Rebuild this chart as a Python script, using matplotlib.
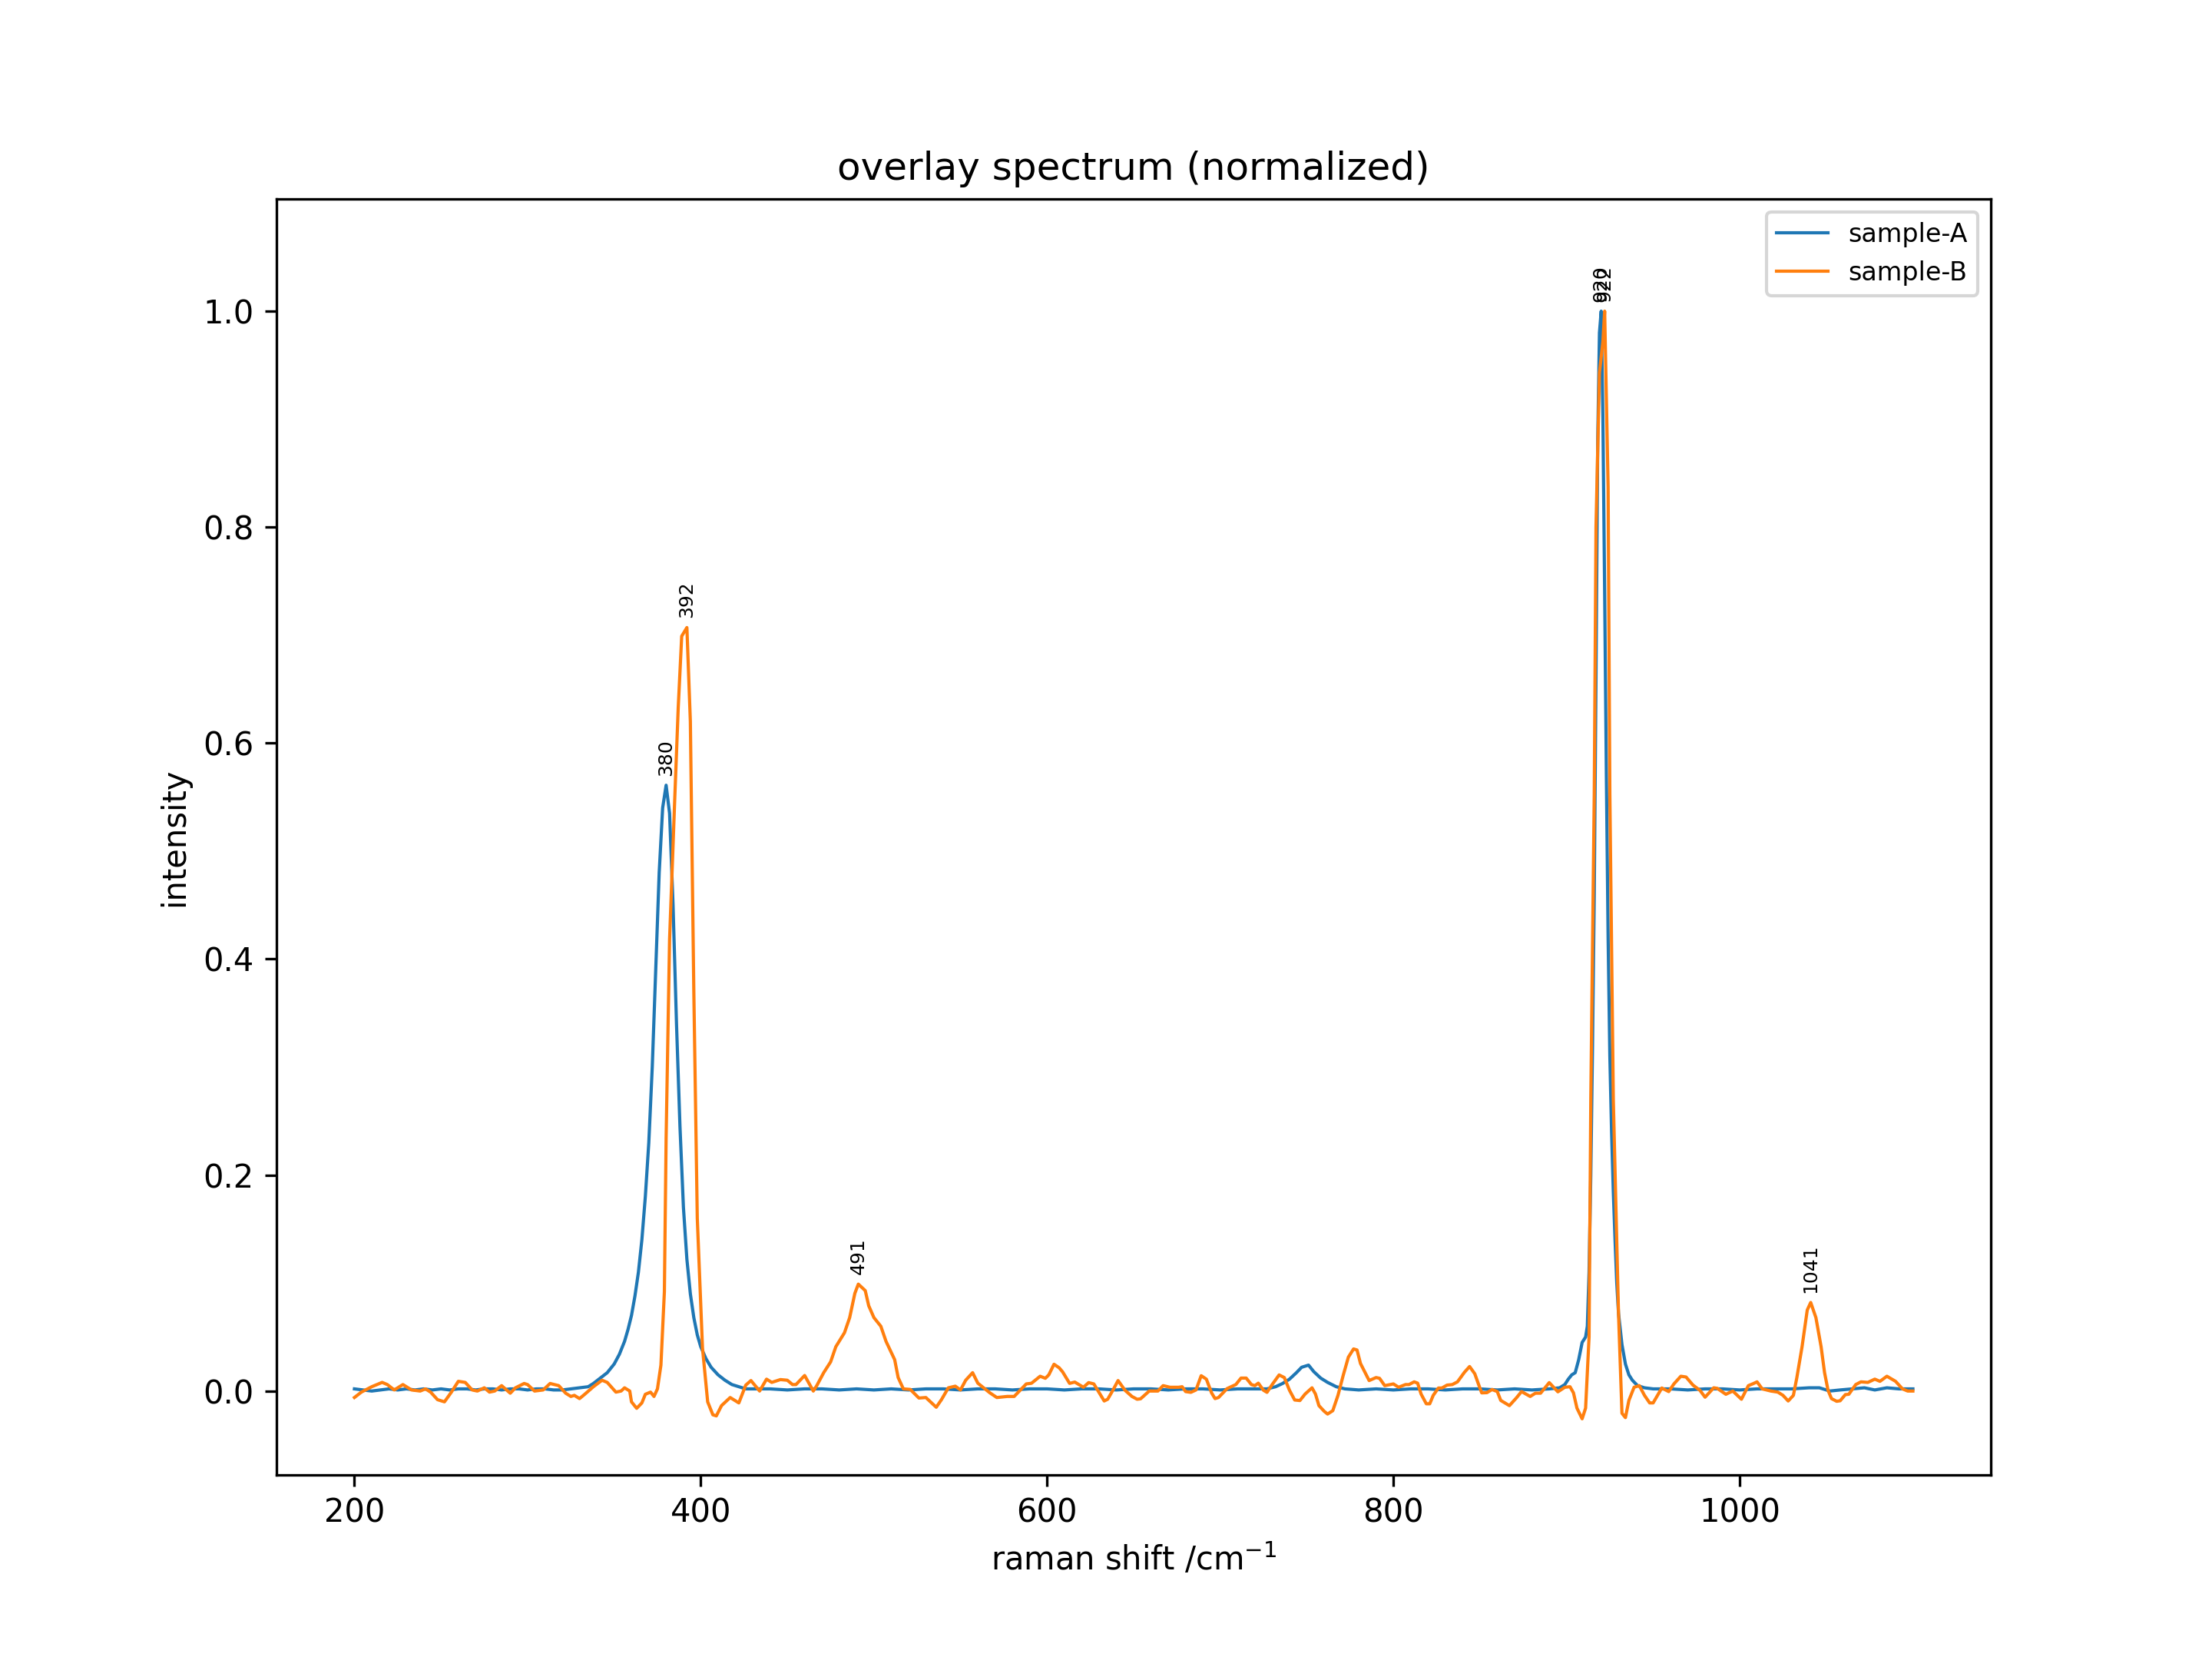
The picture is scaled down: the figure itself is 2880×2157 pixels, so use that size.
import matplotlib
matplotlib.use("Agg")
import matplotlib.pyplot as plt

# sample-A (blue)
shift_a = [200, 205, 210, 215, 220, 225, 230, 235, 240, 245, 250, 255, 260, 265, 270, 275,
           280, 285, 290, 295, 300, 305, 310, 315, 320, 325, 330, 335, 338, 342, 346, 350,
           353, 356, 358, 360, 362, 364, 366, 368, 370, 372, 374, 376, 378, 380, 382, 384,
           386, 388, 390, 392, 394, 396, 398, 400, 403, 406, 410, 414, 418, 422, 426, 430,
           440, 450, 460, 470, 480, 490, 500, 510, 520, 530, 540, 550, 560, 570, 580, 590,
           600, 610, 620, 630, 640, 650, 660, 670, 680, 690, 700, 710, 720, 727, 732, 736,
           740, 744, 747, 751, 754, 758, 762, 767, 772, 780, 790, 800, 810, 820, 830, 840,
           850, 860, 870, 880, 890, 896, 899, 901, 903, 905, 907, 909, 911, 912, 913, 914,
           915, 916, 917, 918, 919, 920, 921, 922, 923, 924, 925, 926, 927, 928, 929, 930,
           932, 934, 936, 938, 941, 945, 950, 960, 970, 980, 990, 1000, 1010, 1020, 1030,
           1040, 1046, 1052, 1058, 1065, 1072, 1078, 1085, 1092, 1100]
int_a = [0.002, 0.001, 0.000, 0.001, 0.002, 0.001, 0.002, 0.001, 0.002, 0.001, 0.002, 0.001,
         0.002, 0.002, 0.001, 0.002, 0.002, 0.001, 0.002, 0.002, 0.001, 0.002, 0.002, 0.001,
         0.001, 0.002, 0.003, 0.004, 0.007, 0.012, 0.017, 0.025, 0.034, 0.046, 0.057, 0.070,
         0.088, 0.110, 0.140, 0.180, 0.230, 0.300, 0.390, 0.480, 0.540, 0.561, 0.535, 0.450,
         0.340, 0.245, 0.170, 0.122, 0.090, 0.068, 0.052, 0.041, 0.030, 0.022, 0.015, 0.010,
         0.006, 0.004, 0.002, 0.002,
         0.002, 0.001, 0.002, 0.002, 0.001, 0.002, 0.001, 0.002, 0.001, 0.002, 0.002, 0.001,
         0.002, 0.002, 0.001, 0.002, 0.002, 0.001, 0.002, 0.002, 0.001, 0.002, 0.002, 0.001,
         0.002, 0.002, 0.001, 0.002, 0.002, 0.002, 0.004, 0.007,
         0.011, 0.017, 0.022, 0.024, 0.018, 0.012, 0.008, 0.004, 0.002, 0.001, 0.002, 0.001,
         0.002, 0.002, 0.001, 0.002,
         0.002, 0.001, 0.002, 0.001, 0.002, 0.003, 0.006, 0.011, 0.015, 0.017, 0.029, 0.045,
         0.050, 0.060, 0.110, 0.200,
         0.320, 0.460, 0.660, 0.880, 0.980, 1.000, 0.900, 0.740, 0.570, 0.420, 0.310, 0.240,
         0.185, 0.140, 0.100, 0.072,
         0.043, 0.025, 0.015, 0.010, 0.005, 0.003, 0.002, 0.002, 0.001, 0.002, 0.002, 0.001,
         0.002, 0.002, 0.002,
         0.003, 0.003, 0.000, 0.001, 0.002, 0.003, 0.001, 0.003, 0.002, 0.002]

# sample-B (orange)
shift_b = [200, 204, 210, 216, 219, 223, 228, 233, 238, 241, 244, 248, 252, 256, 260, 264,
           268, 271, 275, 278, 281, 285, 290, 293, 298, 300, 304, 309, 313, 318, 322, 325,
           327, 330, 333, 338, 343, 346, 351, 354, 356, 359, 360, 363, 366, 368, 371, 373,
           375, 377, 379, 380, 382, 385, 387, 389, 392, 394, 396, 398, 401, 404, 407, 409,
           412, 417, 422, 426, 429, 434, 438, 441, 446, 450, 453, 455, 460, 465, 467, 471,
           475, 478, 483, 486, 489, 491, 495, 497, 500, 504, 507, 512, 514, 517, 521, 526,
           530, 536, 539, 543, 547, 550, 553, 557, 560, 567, 571, 577, 581, 588, 591, 596,
           599, 601, 604, 607, 609, 613, 616, 621, 624, 627, 633, 635, 638, 641, 645, 649,
           652, 654, 659, 664, 667, 671, 676, 678, 680, 683, 686, 689, 692, 695, 697, 699,
           704, 709, 712, 715, 718, 720, 722, 725, 727, 730, 734, 737, 740, 743, 746, 749,
           753, 755, 757, 760, 762, 765, 768, 771, 774, 777, 779, 781, 786, 790, 792, 795,
           800, 803, 807, 809, 812, 814, 816, 819, 821, 823, 826, 828, 831, 834, 837, 841,
           844, 847, 849, 851, 854, 857, 860, 862, 867, 871, 874, 879, 882, 885, 890, 895,
           899, 902, 904, 906, 909, 911, 913, 914, 916, 917, 919, 921, 922, 924, 925, 927,
           930, 932, 934, 936, 939, 942, 945, 948, 950, 955, 959, 962, 966, 969, 973, 977,
           980, 985, 987, 992, 996, 1001, 1005, 1008, 1010, 1013, 1018, 1022, 1025, 1028,
           1031, 1033, 1036, 1039, 1041, 1044, 1047, 1049, 1051, 1053, 1056, 1058, 1061,
           1063, 1067, 1070, 1074, 1078, 1081, 1085, 1090, 1094, 1097, 1100]
int_b = [-0.006, -0.001, 0.004, 0.008, 0.006, 0.001, 0.006, 0.001, 0.000, 0.002, -0.001, -0.008,
         -0.010, -0.001, 0.009, 0.008, 0.001, 0.000, 0.003, -0.001, 0.000, 0.005, -0.002, 0.003,
         0.007, 0.006, 0.000, 0.001, 0.007, 0.005, -0.002, -0.005, -0.004, -0.007, -0.003, 0.004,
         0.010, 0.008, -0.001, 0.000, 0.003, 0.000, -0.010, -0.016, -0.011, -0.003, -0.001, -0.005,
         0.002, 0.024, 0.092, 0.234, 0.418, 0.549, 0.633, 0.699, 0.707, 0.620, 0.370, 0.160,
         0.040, -0.010, -0.022, -0.023,
         -0.0135, -0.006, -0.011, 0.0055, 0.0097, 0.000, 0.011, 0.008, 0.0106, 0.010, 0.006, 0.006,
         0.0144, 0.000, 0.005, 0.017,
         0.027, 0.041, 0.054, 0.068, 0.0905, 0.099, 0.093, 0.079, 0.068, 0.060, 0.046, 0.029,
         0.0125, 0.002, 0.0015, -0.0065,
         -0.006, -0.015, -0.008, 0.003, 0.0045, 0.001, 0.010, 0.017, 0.0073, -0.0017, -0.006, -0.005,
         -0.005, 0.0066, 0.0072, 0.0137,
         0.0118, 0.015, 0.0248, 0.0215, 0.0177, 0.0071, 0.0083, 0.0035, 0.0078, 0.0066, -0.0092,
         -0.0076, 0.0007, 0.0097, 0.0007, -0.005,
         -0.0076, -0.0072, 0.000, 0.000, 0.005, 0.0035, 0.0035, 0.004, -0.0005, -0.0012, 0.001,
         0.0142, 0.011, -0.0017, -0.007, -0.006,
         0.0023, 0.006, 0.012, 0.012, 0.006, 0.005, 0.0073, 0.0007, -0.0012, 0.006, 0.0149,
         0.0125, 0.0007, -0.0083, -0.0088, -0.0028,
         0.003, -0.0028, -0.0135, -0.0187, -0.0213, -0.0182, -0.004, 0.0144, 0.0314, 0.039,
         0.038, 0.0255, 0.0097, 0.0125, 0.0118, 0.005,
         0.0066, 0.0035, 0.006, 0.006, 0.0085, 0.0073, -0.0028, -0.0118, -0.0118, -0.004,
         0.0028, 0.0028, 0.0055, 0.006, 0.0085, 0.0173,
         0.0227, 0.016, 0.007, -0.0017, -0.0015, 0.0014, -0.0005, -0.0087, -0.0135, -0.0064,
         -0.0005, -0.005, -0.002, -0.002, 0.0078, -0.0007,
         0.0035, 0.004, -0.0017, -0.0158, -0.0257, -0.0158, 0.050, 0.270, 0.553, 0.800, 0.943,
         0.972, 1.000, 0.837, 0.553, 0.270,
         0.072, -0.0206, -0.0246, -0.0087, 0.0035, 0.005, -0.004, -0.011, -0.011, 0.0028,
         -0.0005, 0.0066, 0.0137, 0.013, 0.0055, 0.0007,
         -0.0057, 0.003, 0.0025, -0.003, 0.000, -0.0076, 0.005, 0.007, 0.0085, 0.002, 0.000,
         -0.001, -0.004, -0.0092,
         -0.004, 0.0125, 0.041, 0.075, 0.082, 0.068, 0.041, 0.017, 0.0007, -0.007, -0.0095,
         -0.009, -0.0033,
         -0.003, 0.006, 0.0085, 0.008, 0.011, 0.009, 0.0137, 0.009, 0.002, 0.000, 0.000]

peaks_a = [380, 920]
peaks_b = [392, 491, 922, 1041]

fig, ax = plt.subplots(figsize=(9.6, 7.19), dpi=300)
ax.plot(shift_a, int_a, lw=1.0, label="sample-A")
ax.plot(shift_b, int_b, lw=1.0, label="sample-B")

# peak labels
for xs, ys, pk in [(shift_a, int_a, peaks_a), (shift_b, int_b, peaks_b)]:
    for p in pk:
        y = ys[xs.index(p)]
        ax.annotate(f"{p}", (p, y), xytext=(0, 3), textcoords="offset points",
                    ha="center", va="bottom", rotation=90, fontsize=6)

ax.set_ylim(-0.0775, 1.104)
ax.set_title("overlay spectrum (normalized)")
ax.set_xlabel("raman shift /cm$^{-1}$")
ax.set_ylabel("intensity")
ax.legend(loc="upper right", fontsize=8)

fig.savefig("out.png", dpi=300)
